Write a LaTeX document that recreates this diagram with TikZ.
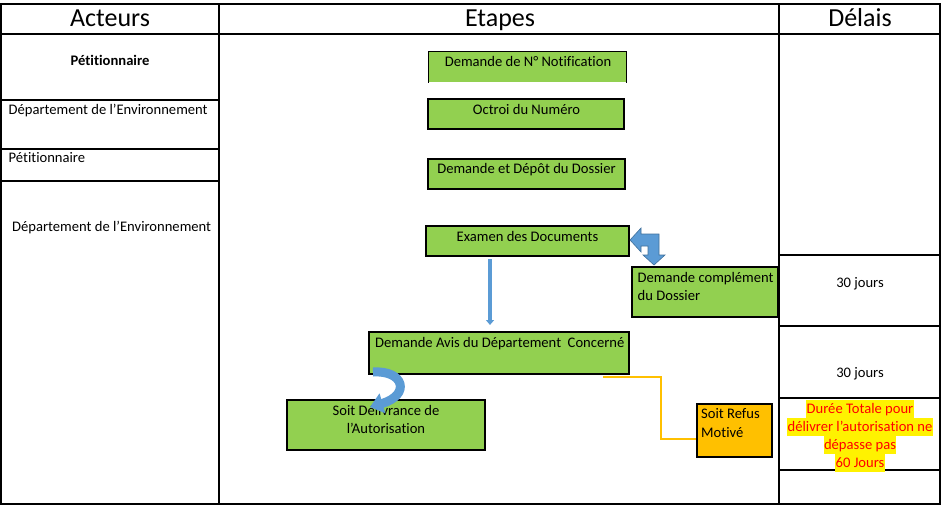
\documentclass[tikz,border=0pt]{standalone}
\usepackage{fontspec}
\setmainfont{Carlito}[Ligatures=NoCommon]
\usetikzlibrary{arrows.meta}
\definecolor{boxgreen}{HTML}{92D050}
\definecolor{boxorange}{HTML}{FFC000}
\definecolor{arrowblue}{HTML}{5B9BD5}
\definecolor{arrowedge}{HTML}{41719C}
\definecolor{linegold}{HTML}{FFC000}
\begin{document}
\begin{tikzpicture}[x=1pt,y=-1pt,
  grid/.style={line width=1.4pt,black},
  stepbox/.style={draw=black,fill=boxgreen,line width=1.2pt,inner sep=0pt},
  refbox/.style={stepbox,fill=boxorange},
  txt/.style={font=\fontsize{14.6}{17.5}\selectfont,inner sep=0pt},
  head/.style={font=\fontsize{26}{30}\selectfont,inner sep=0pt},
  hl/.style={txt,fill=yellow,text=red,inner xsep=0.5pt,inner ysep=0pt,text height=13pt,text depth=5pt},
  blockarrow/.style={fill=arrowblue,draw=arrowedge,line width=0.6pt,line join=miter},
  refline/.style={draw=linegold,line width=1.2pt}]
\useasboundingbox (0,0) rectangle (941,508);
\fill[white] (0,0) rectangle (941,508);
% ---- table ----
\draw[grid] (1,4) rectangle (940,504);
\draw[grid] (1,34) -- (940,34);
\draw[grid] (219,4) -- (219,504);
\draw[grid] (779,4) -- (779,504);
\draw[grid] (1,100) -- (219,100);
\draw[grid] (1,149) -- (219,149);
\draw[grid] (1,181) -- (219,181);
\draw[grid] (779,255) -- (940,255);
\draw[grid] (779,326) -- (940,326);
\draw[grid] (779,398) -- (940,398);
\draw[grid] (779,470) -- (940,470);
% ---- headers ----
\node[head,anchor=base] (hA) at (110,27) {Acteurs};
\node[head,anchor=base] (hE) at (500,27) {Etapes};
\node[head,anchor=base] (hD) at (860,27) {Délais};
% ---- actors ----
\node[txt,anchor=base,font=\fontsize{14.6}{17.5}\selectfont\bfseries] (a1) at (110,66) {Pétitionnaire};
\node[txt,anchor=base west] (a2) at (8.5,114) {Département de l’Environnement};
\node[txt,anchor=base west] (a3) at (8.5,162) {Pétitionnaire};
\node[txt,anchor=base west] (a4) at (12,231) {Département de l’Environnement};
% ---- delays ----
\node[txt,anchor=base] (d1) at (860,287) {30 jours};
\node[txt,anchor=base] (d2) at (860,377) {30 jours};
\node[hl,anchor=base] (r1) at (860,413) {Durée Totale pour};
\node[hl,anchor=base] (r2) at (860,431) {délivrer l’autorisation ne};
\node[hl,anchor=base] (r3) at (860,449) {dépasse pas};
\node[hl,anchor=base] (r4) at (860,467) {60 Jours};
% ---- step boxes ----
\node[stepbox,draw=none,minimum width=197pt,minimum height=30pt] (b1) at (527.5,67) {};
\draw[line width=1.2pt] (b1.south west) -- (b1.north west) -- (b1.north east) -- (b1.south east);
\node[txt,anchor=base] (t1) at (528,67) {Demande de N° Notification};
\node[stepbox,minimum width=196pt,minimum height=30pt] (b2) at (526,114) {};
\node[txt,anchor=base] (t2) at (526.5,114) {Octroi du Numéro};
\node[stepbox,minimum width=197pt,minimum height=30pt] (b3) at (526.5,174) {};
\node[txt,anchor=base] (t3) at (526.5,173) {Demande et Dépôt du Dossier};
\node[stepbox,minimum width=203pt,minimum height=30pt] (b4) at (527.5,241) {};
\node[txt,anchor=base] (t4) at (527.5,241) {Examen des Documents};
\node[stepbox,minimum width=146pt,minimum height=50pt] (b5) at (705,292) {};
\node[txt,anchor=base west] (t5a) at (637.5,282) {Demande complément};
\node[txt,anchor=base west] (t5b) at (637.5,300.5) {du Dossier};
\node[stepbox,minimum width=260pt,minimum height=42pt] (b6) at (499,353) {};
\node[txt,anchor=base west] (t6) at (375,347) {Demande Avis du Département\ \ Concerné};
\node[stepbox,minimum width=198pt,minimum height=50pt] (b7) at (386,425) {};
\node[txt,anchor=base] (t7a) at (386,415) {Soit Délivrance de};
\node[txt,anchor=base] (t7b) at (386,433.5) {l’Autorisation};
\node[refbox,minimum width=75pt,minimum height=53pt] (b8) at (734.5,430.5) {};
\node[txt,anchor=base west] (t8a) at (701,418) {Soit Refus};
\node[txt,anchor=base west] (t8b) at (701,437) {Motivé};
% ---- connectors ----
\coordinate (c1) at (603,377);
\draw[refline] (c1) -- ++(58,0) |- ([yshift=-8.5pt]b8.west);
% bent block arrow Examen -> complement
\draw[blockarrow] (630,240) -- (641,228) -- (641,234) -- (659,234) -- (659,255)
  -- (665,255) -- (654,265) -- (643,255) -- (648,255) -- (648,246)
  -- (641,246) -- (641,252) -- cycle;
% straight arrow Examen -> Avis
\coordinate (s1) at (490,259);
\coordinate (s2) at (490,325);
\draw[line width=3.6pt,arrowblue,-{Triangle[width=8pt,length=5pt]}] (s1) -- (s2);
% curved arrow Avis -> Delivrance
\coordinate (k1) at (373,372);
\coordinate (k2) at (370,407);
\draw[line width=9pt,arrowblue,-{Triangle[width=20pt,length=13pt]}] (k1) .. controls (404,370) and (411,395) .. (k2);
\end{tikzpicture}
\end{document}
